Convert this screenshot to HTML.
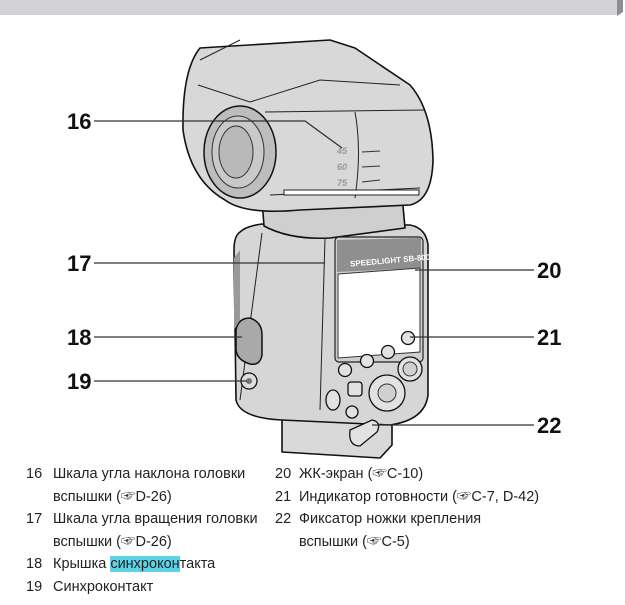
<!DOCTYPE html>
<html><head><meta charset="utf-8"><style>
html,body{margin:0;padding:0;background:#fff;width:625px;height:605px;overflow:hidden}
.t{position:absolute;font-family:"Liberation Sans","Noto Sans CJK SC",sans-serif;font-size:14.5px;color:#222;white-space:nowrap;line-height:18px}
.hl{background:#5fd3e6}
</style></head><body>
<svg width="625" height="605" style="position:absolute;left:0;top:0" xmlns="http://www.w3.org/2000/svg">
<rect x="0" y="0" width="618" height="15" fill="#d3d3d5"/>
<polygon points="617,0 623,0 623,12 617,16" fill="#8e8e90"/>
<g stroke="#111" stroke-width="1.6" stroke-linejoin="round">
<path d="M282,415 L282,452 L380,458 L392,445 L392,410 Z" fill="#d9d9d9"/>
<path d="M240,232 Q234,236 234,250 L236,400 Q240,418 282,420 L390,425 Q425,420 428,395 L428,245 Q426,228 410,225 L262,224 Q246,226 240,232 Z" fill="#d6d6d6"/>
<path d="M262,200 L264,226 Q290,240 330,238 L405,228 L402,195 Z" fill="#cfcfcf"/>
<path d="M200,48 L330,40 L355,48 L410,85 Q432,110 433,160 Q432,200 410,205 L300,210 Q245,215 225,200 Q190,180 183,130 Q182,70 200,48 Z" fill="#d8d8d8"/>
</g>
<g stroke="#222" stroke-width="1" fill="none">
<path d="M250,102 L320,80 L400,85"/>
<path d="M265,112 L425,110"/>
<path d="M270,195 L420,188"/>
<path d="M355,112 Q362,150 355,198"/>
<path d="M198,85 L250,102"/>
<path d="M262,233 L240,400"/>
<path d="M325,238 L320,410"/>
<path d="M200,60 L240,40"/>
</g>
<rect x="284" y="190" width="135" height="5" fill="#fff" stroke="#222" stroke-width="1"/>
<ellipse cx="240" cy="152" rx="36" ry="46" fill="#bdbdbd" stroke="#111" stroke-width="1.5"/>
<ellipse cx="238" cy="152" rx="26" ry="36" fill="#c9c9c9" stroke="#333" stroke-width="1"/>
<ellipse cx="236" cy="152" rx="17" ry="26" fill="#b9b9b9" stroke="#333" stroke-width="1"/>
<g font-family="Liberation Sans,sans-serif" font-size="9" font-style="italic" font-weight="bold" fill="#999">
<text x="337" y="154">45</text><text x="337" y="170">60</text><text x="337" y="186">75</text></g>
<g stroke="#333" stroke-width="1"><line x1="362" y1="152" x2="380" y2="151"/><line x1="362" y1="167" x2="380" y2="166"/><line x1="362" y1="182" x2="380" y2="180"/></g>
<rect x="335" y="237" width="88" height="125" rx="4" fill="#cfcfcf" stroke="#222" stroke-width="1.2"/>
<polygon points="337,240 421,238 421,268 337,272" fill="#8f8f8f"/>
<text x="350" y="264" font-family="Liberation Sans,sans-serif" font-size="8" font-weight="bold" fill="#fff" transform="rotate(-5 380 262)">SPEEDLIGHT SB-800</text>
<polygon points="338,274 420,268 420,352 338,358" fill="#fff" stroke="#333" stroke-width="1"/>
<path d="M236,330 Q238,318 250,318 Q262,322 262,335 L262,355 Q260,366 250,364 Q237,360 236,350 Z" fill="#a9a9a9" stroke="#111" stroke-width="1.5"/>
<path d="M234,258 L240,250 L240,320 L234,330 Z" fill="#999"/>
<circle cx="249" cy="381" r="8" fill="#ddd" stroke="#111" stroke-width="1.3"/><circle cx="249" cy="381" r="3" fill="#777"/>
<g fill="#e2e2e2" stroke="#111" stroke-width="1.3">
<circle cx="345" cy="370" r="6.5"/><circle cx="367" cy="361" r="6.5"/><circle cx="388" cy="352" r="6.5"/><circle cx="408" cy="338" r="6.5"/>
<circle cx="387" cy="393" r="18"/><circle cx="410" cy="369" r="12"/>
<ellipse cx="333" cy="400" rx="7" ry="10"/><circle cx="352" cy="412" r="6"/>
<rect x="348" y="382" width="14" height="14" rx="3"/>
<path d="M350,430 L372,420 Q382,422 377,432 L360,446 Q348,446 350,430 Z"/>
</g>
<circle cx="387" cy="393" r="9" fill="#d0d0d0" stroke="#333"/>
<circle cx="410" cy="369" r="7" fill="#d0d0d0" stroke="#333"/>
<g stroke="#333" stroke-width="1.3" fill="none">
<path d="M94,121 L305,121 L342,148"/>
<line x1="94" y1="263" x2="325" y2="263"/>
<line x1="94" y1="337" x2="242" y2="337"/>
<line x1="94" y1="381" x2="247" y2="381"/>
<line x1="415" y1="270" x2="534" y2="270"/>
<line x1="410" y1="337" x2="534" y2="337"/>
<line x1="372" y1="425" x2="534" y2="425"/>
</g>
<g font-family="Liberation Sans,sans-serif" font-size="22" font-weight="bold" fill="#111">
<text x="67" y="129">16</text><text x="67" y="271">17</text><text x="67" y="345">18</text><text x="67" y="389">19</text>
<text x="537" y="278">20</text><text x="537" y="345">21</text><text x="537" y="433">22</text>
</g>
</svg>
<div class="t" style="left:26px;top:465px">16</div><div class="t" style="left:53px;top:465px">Шкала угла наклона головки</div>
<div class="t" style="left:53px;top:488px">вспышки (☞D-26)</div>
<div class="t" style="left:26px;top:510px">17</div><div class="t" style="left:53px;top:510px">Шкала угла вращения головки</div>
<div class="t" style="left:53px;top:533px">вспышки (☞D-26)</div>
<div class="t" style="left:26px;top:555px">18</div><div class="t" style="left:53px;top:555px">Крышка <span class="hl">синхрокон</span>такта</div>
<div class="t" style="left:26px;top:578px">19</div><div class="t" style="left:53px;top:578px">Синхроконтакт</div>
<div class="t" style="left:275px;top:465px">20</div><div class="t" style="left:299px;top:465px">ЖК-экран (☞C-10)</div>
<div class="t" style="left:275px;top:488px">21</div><div class="t" style="left:299px;top:488px">Индикатор готовности (☞C-7, D-42)</div>
<div class="t" style="left:275px;top:510px">22</div><div class="t" style="left:299px;top:510px">Фиксатор ножки крепления</div>
<div class="t" style="left:299px;top:533px">вспышки (☞C-5)</div>
</body></html>
